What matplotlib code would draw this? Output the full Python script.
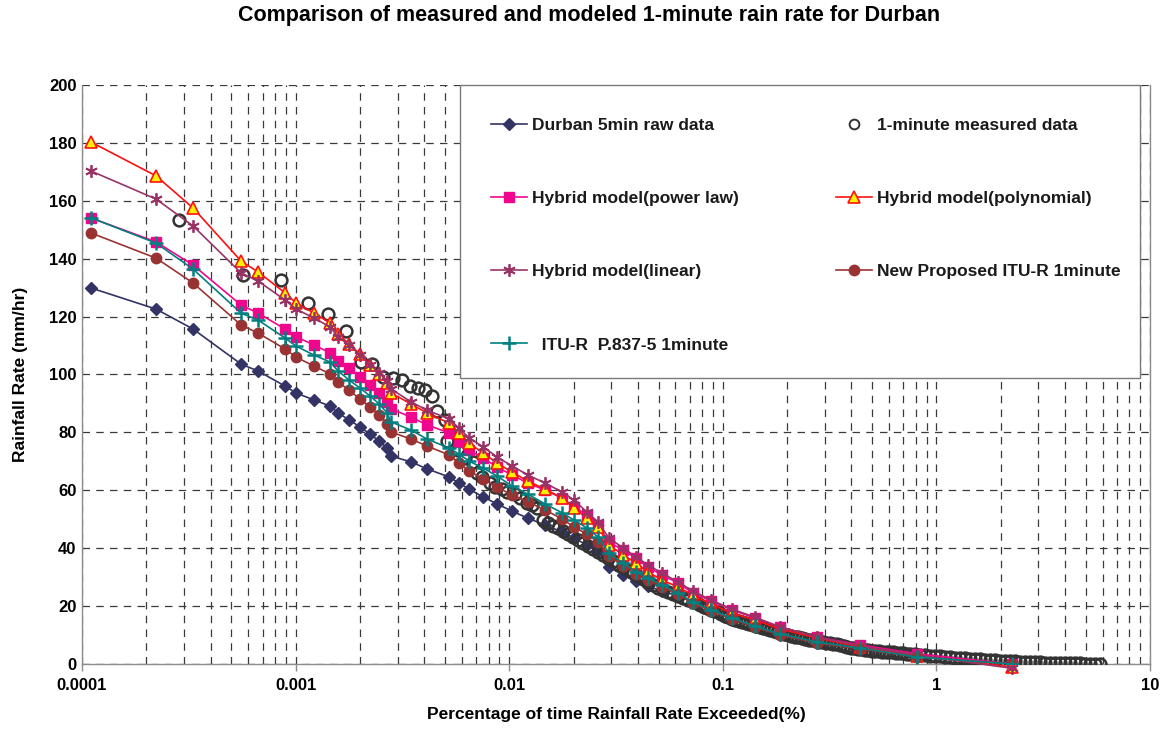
"""
Measured vs. modelled 1-minute rain rate exceedance curves for Durban
"""

import matplotlib
matplotlib.use('Agg')
import matplotlib.pyplot as plt
from matplotlib.patches import Rectangle
from matplotlib.ticker import FixedLocator, LogLocator, NullFormatter

plt.rcParams['font.family'] = ['Liberation Sans', 'DejaVu Sans']
plt.rcParams['font.weight'] = 'bold'

# percentage of time exceeded, shared by the 5-minute data and the models
pct = [1.10e-4, 2.22e-4, 3.31e-4, 5.55e-4, 6.67e-4, 8.92e-4, 1.004e-3, 1.22e-3,
       1.45e-3, 1.58e-3, 1.78e-3, 2.00e-3, 2.23e-3, 2.46e-3, 2.68e-3, 2.80e-3,
       3.47e-3, 4.12e-3, 5.23e-3, 5.82e-3, 6.48e-3, 7.54e-3, 8.77e-3, 1.03e-2,
       1.22e-2, 1.47e-2, 1.77e-2, 2.01e-2, 2.31e-2, 2.60e-2, 2.93e-2, 3.41e-2,
       3.92e-2, 4.46e-2, 5.19e-2, 6.17e-2, 7.25e-2, 8.81e-2, 0.110, 0.141,
       0.185, 0.276, 0.439, 0.812, 2.26]

durban_5min = [129.9, 122.6, 115.7, 103.6, 101.2, 96.0, 93.6, 91.2, 89.1, 86.7,
               84.3, 81.9, 79.4, 77.0, 74.6, 71.8, 69.8, 67.4, 64.6, 62.5,
               60.4, 57.7, 55.3, 52.8, 50.4, 48.0, 45.6, 43.5, 41.1, 39.0,
               33.5, 30.7, 28.7, 26.9, 25.2, 23.5, 21.4, 19.0, 15.5, 12.8,
               10.0, 7.3, 5.2, 2.4, 0.0]

hybrid_power = [154.1, 145.8, 137.8, 124.0, 121.2, 115.7, 113.0, 110.2, 107.4, 104.7,
                102.2, 99.1, 96.4, 93.6, 90.5, 88.1, 85.3, 82.6, 79.8, 76.7,
                73.9, 71.2, 68.0, 65.3, 62.5, 60.1, 57.3, 54.2, 51.5, 48.0,
                42.1, 39.4, 36.6, 33.5, 30.7, 28.0, 24.5, 21.8, 18.7, 15.9,
                12.8, 9.3, 6.6, 3.5, 0.0]

hybrid_poly = [180.3, 168.6, 157.5, 139.2, 135.4, 128.2, 124.7, 121.2, 117.8, 114.0,
               110.5, 107.1, 103.3, 100.2, 97.1, 93.6, 89.8, 86.7, 83.2, 79.8,
               76.3, 72.9, 69.4, 66.3, 63.2, 60.4, 57.3, 53.9, 50.4, 47.3,
               41.1, 37.7, 34.9, 31.8, 29.0, 26.6, 23.8, 20.7, 17.6, 15.2,
               12.1, 9.0, 5.9, 2.8, -1.0]

hybrid_linear = [170.3, 160.6, 151.3, 135.1, 132.3, 125.7, 122.6, 119.5, 116.4, 113.0,
                 110.2, 106.7, 103.3, 100.5, 97.8, 95.0, 90.5, 87.7, 84.6, 81.5,
                 78.1, 75.0, 71.5, 68.4, 65.3, 62.5, 59.4, 56.6, 52.5, 49.1,
                 43.5, 40.1, 37.0, 34.2, 31.4, 28.3, 25.2, 22.1, 19.0, 16.2,
                 12.8, 9.3, 6.2, 3.1, -1.5]

new_itu = [148.9, 140.2, 131.6, 117.1, 114.3, 108.8, 106.0, 102.9, 100.2, 97.4,
           94.6, 91.5, 88.8, 86.0, 82.9, 80.1, 77.7, 75.3, 72.2, 69.4,
           66.7, 63.9, 61.1, 58.4, 56.0, 53.2, 50.1, 47.3, 44.9, 42.1,
           37.3, 33.9, 31.1, 29.0, 26.6, 24.2, 21.1, 18.3, 15.5, 12.8,
           10.0, 7.3, 5.2, 2.4, 0.0]

itu_p837 = [154.1, 145.4, 136.4, 121.2, 118.8, 112.6, 109.8, 106.7, 104.3, 101.2,
            98.1, 95.3, 92.6, 89.8, 86.7, 83.6, 80.8, 77.7, 74.6, 72.5,
            70.1, 67.7, 64.9, 61.5, 58.7, 55.3, 52.2, 49.7, 47.0, 43.9,
            38.3, 34.9, 31.8, 29.7, 27.3, 24.5, 21.4, 18.7, 15.9, 13.1,
            10.4, 7.6, 5.5, 2.4, 0.0]

# 1-minute measured data (own time axis)
meas_pct = [2.85e-4, 5.67e-4, 8.54e-4, 1.14e-3, 1.42e-3, 1.72e-3, 2.02e-3, 2.28e-3,
            2.57e-3, 2.86e-3, 3.15e-3, 3.43e-3, 3.74e-3, 4.03e-3, 4.35e-3, 4.59e-3,
            5.01e-3, 5.12e-3, 5.76e-3, 6.21e-3, 6.77e-3, 7.07e-3, 7.46e-3, 8.13e-3,
            8.60e-3, 9.20e-3, 9.76e-3, 1.065e-2, 1.12e-2, 1.21e-2, 1.28e-2, 1.35e-2,
            1.44e-2, 1.519e-2, 1.604e-2, 1.693e-2, 1.786e-2, 1.885e-2, 1.989e-2,
            2.099e-2, 2.216e-2, 2.338e-2, 2.468e-2, 2.604e-2, 2.748e-2, 2.901e-2,
            3.062e-2, 3.231e-2, 3.410e-2, 3.599e-2, 3.798e-2, 4.009e-2, 4.231e-2,
            4.466e-2, 4.713e-2, 4.974e-2, 5.248e-2, 5.540e-2, 5.846e-2, 6.171e-2,
            6.512e-2, 6.873e-2, 7.254e-2, 7.822e-2, 8.433e-2, 9.095e-2, 9.808e-2,
            0.1058, 0.1141, 0.1230, 0.1327, 0.1430, 0.1543, 0.1663, 0.1794,
            0.1934, 0.2086, 0.2250, 0.2425, 0.2616, 0.2821, 0.3041, 0.3280,
            0.3537, 0.3815, 0.4113, 0.4436, 0.4784, 0.5160, 0.5564, 0.6000,
            0.6471, 0.6977, 0.7524, 0.8380, 0.9333, 1.040, 1.158, 1.290,
            1.437, 1.600, 1.782, 1.985, 2.211, 2.462, 2.743, 3.055,
            3.402, 3.791, 4.222, 4.701, 5.237, 5.833,
            0.07531, 0.08121, 0.08757, 0.09445, 0.1019, 0.1098, 0.1184, 0.1277,
            0.1377, 0.1485, 0.1602, 0.1728, 0.1863, 0.2009, 0.2167, 0.2335,
            0.2519, 0.2716, 0.2929, 0.3159, 0.3406, 0.3674, 0.3961, 0.4272,
            0.4607, 0.4968, 0.5358, 0.5778, 0.6231, 0.6717, 0.7244, 0.7941,
            0.8843, 0.9849, 1.097, 1.222, 1.361, 1.516, 1.689, 1.880,
            2.095, 2.333, 2.599, 2.894, 3.224, 3.591, 4.000, 4.456,
            4.963, 5.527]
meas_rate = [153.4, 134.4, 132.6, 124.7, 120.9, 115.0, 104.3, 103.6,
             99.1, 98.8, 98.1, 96.0, 95.3, 94.6, 92.6, 87.4,
             84.3, 77.0, 73.9, 71.2, 69.8, 66.0, 64.6, 62.5,
             61.0, 60.3, 59.4, 58.7, 57.4, 55.6, 54.8, 53.9,
             49.7, 48.7, 47.7, 47.0, 45.9, 44.9, 43.9,
             42.8, 41.8, 40.8, 39.7, 38.7, 37.7, 36.6,
             35.6, 34.5, 33.5, 32.5, 31.4, 30.4, 29.4,
             28.3, 27.3, 26.3, 25.6, 24.9, 24.2, 23.5,
             22.8, 22.1, 21.4, 20.4, 19.3, 18.3, 17.3,
             16.2, 15.2, 14.5, 13.8, 13.1, 12.4, 11.7, 11.1,
             10.4, 9.7, 9.3, 8.6, 8.3, 7.6, 7.3, 6.9,
             6.6, 5.9, 5.5, 5.2, 4.8, 4.5, 4.3, 4.1,
             3.9, 3.7, 3.5, 3.2, 2.9, 2.6, 2.3, 2.1,
             1.8, 1.6, 1.4, 1.2, 1.0, 0.85, 0.7, 0.55,
             0.45, 0.35, 0.25, 0.2, 0.1, 0.05,
             20.9, 19.8, 18.8, 17.8, 16.7, 15.7, 14.85, 14.15,
             13.45, 12.75, 12.05, 11.4, 10.75, 10.05, 9.5, 8.95,
             8.45, 7.95, 7.45, 7.1, 6.75, 6.25, 5.7, 5.35,
             5.0, 4.65, 4.4, 4.2, 4.0, 3.8, 3.6, 3.35,
             3.05, 2.75, 2.45, 2.2, 1.95, 1.7, 1.5, 1.3,
             1.1, 0.92, 0.78, 0.62, 0.5, 0.4, 0.3, 0.22,
             0.15, 0.08]

fig = plt.figure(figsize=(11.72, 7.30), dpi=100)
ax = fig.add_axes([0.070, 0.0904, 0.9113, 0.7932])

lw = 1.2
h_durban, = ax.plot(pct, durban_5min, color='#333366', lw=lw, marker='D', ms=6.5,
                    mfc='#333366', mec='#333366', label='Durban 5min raw data', zorder=3)
h_meas, = ax.plot(meas_pct, meas_rate, ls='none', marker='o', ms=8.5, mfc='none',
                  mec='#333333', mew=1.8, label='1-minute measured data', zorder=3)
h_power, = ax.plot(pct, hybrid_power, color='#F0068C', lw=lw, marker='s', ms=7.5,
                   mfc='#F0068C', mec='#F0068C', label='Hybrid model(power law)', zorder=3)
h_poly, = ax.plot(pct, hybrid_poly, color='#FF1010', lw=lw, marker='^', ms=8.5,
                  mfc='#FFF200', mec='#FF1010', mew=1.2,
                  label='Hybrid model(polynomial)', zorder=3, clip_on=False)
h_lin, = ax.plot(pct, hybrid_linear, color='#993366', lw=lw, marker=(6, 2, 0), ms=9,
                 mew=1.3, mec='#993366', label='Hybrid model(linear)', zorder=3, clip_on=False)
h_new, = ax.plot(pct, new_itu, color='#993333', lw=lw, marker='o', ms=7.5,
                 mfc='#993333', mec='#993333', label='New Proposed ITU-R 1minute', zorder=3)
h_itu, = ax.plot(pct, itu_p837, color='#008080', lw=lw, marker='+', ms=10, mew=1.8,
                 label='  ITU-R  P.837-5 1minute', zorder=3)

ax.set_xscale('log')
ax.set_xlim(1e-4, 10)
ax.set_ylim(0, 200)
ax.yaxis.set_major_locator(FixedLocator(range(0, 201, 20)))
ax.set_xticks([1e-4, 1e-3, 1e-2, 1e-1, 1, 10])
ax.set_xticklabels(['0.0001', '0.001', '0.01', '0.1', '1', '10'])
ax.xaxis.set_minor_locator(LogLocator(base=10, subs=range(2, 10)))
ax.xaxis.set_minor_formatter(NullFormatter())

grid_kw = dict(color='#3a3a3a', lw=0.9, dashes=(6, 5))
ax.grid(True, which='major', axis='y', **grid_kw)
ax.grid(True, which='both', axis='x', **grid_kw)
ax.set_axisbelow(True)

ax.spines['top'].set_visible(False)
for side in ('left', 'bottom', 'right'):
    ax.spines[side].set_color('#8c8c8c')
    ax.spines[side].set_linewidth(1.0)

ax.tick_params(axis='x', which='major', length=5, width=1, color='#8c8c8c',
               pad=5, labelsize=12)
ax.tick_params(axis='x', which='minor', length=0)
ax.tick_params(axis='y', length=0, pad=4, labelsize=12)
for lbl in ax.get_xticklabels() + ax.get_yticklabels():
    lbl.set_fontweight('bold')

ax.set_xlabel('Percentage of time Rainfall Rate Exceeded(%)', fontsize=12.5,
              fontweight='bold', labelpad=10)
ax.set_ylabel('Rainfall Rate (mm/hr)', fontsize=12.5, fontweight='bold', labelpad=15)

fig.text(0.503, 1 - 16 / 730, 'Comparison of measured and modeled 1-minute rain rate for Durban',
         ha='center', va='center', fontsize=15.5, fontweight='bold')

# legend box
ax.add_patch(Rectangle((0.3539, 0.494), 0.6367, 0.506, transform=ax.transAxes,
                       facecolor='white', edgecolor='#7a7a7a', lw=1.0,
                       zorder=5, clip_on=False))
handles = [h_durban, h_power, h_lin, h_itu, h_meas, h_poly, h_new]
leg = ax.legend(handles=handles, labels=[h.get_label() for h in handles],
                ncol=2, loc='upper left', bbox_to_anchor=(0.383, 0.943),
                frameon=False, borderpad=0, borderaxespad=0, fontsize=12.5,
                handlelength=2.07, handletextpad=0.3, columnspacing=5.6,
                labelspacing=3.34, numpoints=1)
leg.set_zorder(6)
for t in leg.get_texts():
    t.set_fontweight('bold')
    t.set_color('#1a1a1a')
# the measured-data legend marker stays small, as a plain ring
leg.legend_handles[4].set_markersize(7)
leg.legend_handles[4].set_markeredgewidth(1.4)

fig.savefig('out.png', dpi=100)
